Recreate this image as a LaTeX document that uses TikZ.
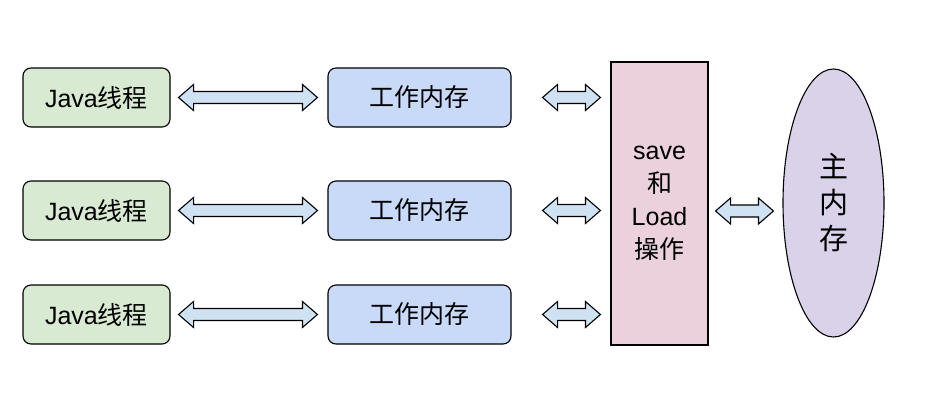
\documentclass[tikz,border=0pt]{standalone}
\usepackage{fontspec}
\setmainfont{Liberation Sans}
\newfontfamily\cjk{Noto Sans CJK SC}
\usetikzlibrary{calc,shapes.geometric}
\definecolor{jgreen}{HTML}{D9EAD3}
\definecolor{wblue}{HTML}{C9DAF8}
\definecolor{spink}{HTML}{EAD1DC}
\definecolor{mpurp}{HTML}{D9D2E9}
\definecolor{abl}{HTML}{CFE2F3}
\tikzset{
  base/.style={draw=black, line width=1.1pt, inner sep=0pt, font=\fontsize{25}{33}\selectfont, align=center},
  jbox/.style={base, fill=jgreen, rounded corners=8pt, minimum width=147pt, minimum height=59pt},
  wbox/.style={base, fill=wblue, rounded corners=8pt, minimum width=183pt, minimum height=59pt},
  sbox/.style={base, fill=spink, minimum width=97pt, minimum height=283pt},
  mell/.style={base, fill=mpurp, ellipse, minimum width=101pt, minimum height=268pt, font=\fontsize{29}{36}\cjk},
  arr/.style={draw=black, line width=1.1pt, fill=abl, line join=miter},
}
% double arrow polygon between two named coordinates (same height)
\newcommand\dblarrow[2]{%
  \draw[arr] (#1) -- ++(15,-13) -- ++(0,7) -- ($(#2)+(-15,-6)$) -- ++(0,-7) -- (#2)
    -- ++(-15,13) -- ++(0,-7) -- ($(#1)+(15,6)$) -- ++(0,7) -- cycle;}
\begin{document}
\begin{tikzpicture}[x=1pt,y=-1pt]
\useasboundingbox[fill=white] (0,0) rectangle (949,402);
\foreach \i/\y in {1/97.5,2/210.5,3/314.5}{
  \node[jbox] (j\i) at (96.5,\y) {Java{\cjk 线程}};
  \node[wbox] (w\i) at (419.5,\y) {\cjk 工作内存};
}
\node[sbox] (s) at (659.5,203.5) {save\\{\cjk 和}\\Load\\{\cjk 操作}};
\node[mell] (m) at (833.5,203) {主\\内\\存};
\foreach \i in {1,2,3}{
  \coordinate (a\i) at ($(j\i.east)+(8,0)$);
  \coordinate (b\i) at ($(w\i.west)+(-10,0)$);
  \dblarrow{a\i}{b\i}
  \coordinate (c\i) at ($(w\i.east)+(31,0)$);
  \coordinate (d\i) at (s.west |- c\i);
  \coordinate (d\i) at ($(d\i)+(-10,0)$);
  \dblarrow{c\i}{d\i}
}
\coordinate (e) at ($(s.east)+(7,7.5)$);
\coordinate (f) at ($(m.west |- e)+(-9,0)$);
\dblarrow{e}{f}
\end{tikzpicture}
\end{document}
